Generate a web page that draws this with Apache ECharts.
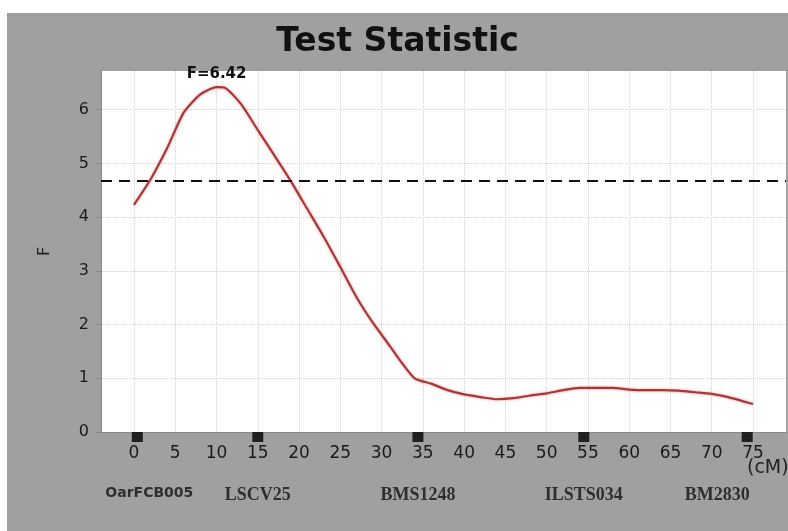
<!DOCTYPE html>
<html>
<head>
<meta charset="utf-8">
<script src="https://cdn.jsdelivr.net/npm/echarts@6/dist/echarts.min.js"></script>
<style>
  html, body { margin: 0; padding: 0; background: #fff; }
  #content { position: absolute; left: 7px; top: 13px; width: 781px; height: 518px; }
</style>
</head>
<body>
<div id="content"></div>
<script>
// position along the chromosome (cM) and test statistic F
var posCM = [0, 2, 4, 6, 8, 10, 11, 13, 15, 17, 19, 21, 23, 25, 27, 29, 31, 32, 34, 36, 38, 40, 42, 44, 46, 48, 50, 52, 54, 56, 58, 60, 62, 64, 66, 68, 70, 72, 75];
var fValues = [4.23, 4.7, 5.28, 5.94, 6.28, 6.42, 6.41, 6.1, 5.62, 5.15, 4.67, 4.15, 3.63, 3.07, 2.5, 2.02, 1.6, 1.38, 1.0, 0.9, 0.78, 0.7, 0.65, 0.61, 0.63, 0.68, 0.72, 0.78, 0.82, 0.82, 0.82, 0.79, 0.78, 0.78, 0.77, 0.74, 0.71, 0.65, 0.52];
var threshold = 4.67;
var peakIndex = 5;

// markers
var markerPos = [0.4, 15, 34.4, 54.5, 74.3];
var markerNames = ["OarFCB005", "LSCV25", "BMS1248", "ILSTS034", "BM2830"];

// tick labels
var xTicks = [0, 5, 10, 15, 20, 25, 30, 35, 40, 45, 50, 55, 60, 65, 70, 75];
var yTicks = [0, 1, 2, 3, 4, 5, 6];

var myChart = echarts.init(document.getElementById("content"));

var lineData = posCM.map(function (x, i) {
  return [x, fValues[i]];
});

var markerData = markerPos.map(function (x, i) {
  var item = { name: markerNames[i], value: [x, 0] };
  if (i === 0) {
    item.label = { fontFamily: "DejaVu Sans", fontSize: 14, offset: [12, 0] };
  }
  if (i === markerPos.length - 1) {
    item.label = { offset: [-30, 0] };
  }
  return item;
});

var option = {
  backgroundColor: "#a0a0a0",
  animation: false,
  title: {
    text: "Test Statistic",
    left: "center",
    top: 8,
    textStyle: {
      fontFamily: "DejaVu Sans",
      fontWeight: "bold",
      fontSize: 33,
      color: "#111"
    }
  },
  grid: {
    left: 94,
    top: 58,
    right: 2,
    bottom: 99,
    containLabel: false,
    outerBoundsMode: "none",
    show: true,
    backgroundColor: "#fff",
    borderWidth: 0
  },
  xAxis: {
    type: "value",
    min: -4,
    max: 79,
    name: "(cM)",
    nameLocation: "end",
    nameGap: -39,
    nameMoveOverlap: false,
    nameTextStyle: {
      fontFamily: "DejaVu Sans",
      fontSize: 19,
      color: "#222",
      align: "left",
      verticalAlign: "top",
      lineHeight: 72
    },
    axisLine: { show: true, onZero: false, lineStyle: { color: "#888", width: 1 } },
    axisTick: { show: false, customValues: xTicks },
    axisLabel: {
      customValues: xTicks,
      margin: 13,
      fontFamily: "DejaVu Sans",
      fontSize: 17,
      color: "#1a1a1a"
    },
    splitLine: { show: true, lineStyle: { color: "#d4d4d4", type: "dotted", width: 1 } }
  },
  yAxis: {
    type: "value",
    min: 0,
    max: 6.72,
    name: "F",
    nameLocation: "middle",
    nameGap: 48,
    nameTextStyle: { fontFamily: "DejaVu Sans", fontSize: 16, color: "#222" },
    axisLine: { show: true, onZero: false, lineStyle: { color: "#888", width: 1 } },
    axisTick: { show: true, length: 5, customValues: yTicks, lineStyle: { color: "#888" } },
    axisLabel: {
      customValues: yTicks,
      margin: 12,
      fontFamily: "DejaVu Sans",
      fontSize: 16,
      color: "#1a1a1a"
    },
    splitLine: { show: true, lineStyle: { color: "#d4d4d4", type: "dotted", width: 1 } }
  },
  series: [
    {
      type: "line",
      data: lineData,
      smooth: 0.2,
      showSymbol: false,
      symbol: "none",
      lineStyle: { color: "#a83838", width: 2.2, shadowColor: "rgba(230,120,120,0.7)", shadowBlur: 3 },
      markLine: {
        silent: true,
        symbol: "none",
        label: { show: false },
        lineStyle: { color: "#111", type: [11, 7], width: 2 },
        data: [{ yAxis: threshold }]
      },
      markPoint: {
        silent: true,
        symbol: "circle",
        symbolSize: 1,
        itemStyle: { color: "rgba(0,0,0,0)" },
        label: {
          show: true,
          position: "top",
          distance: 5,
          formatter: "F=" + fValues[peakIndex].toFixed(2),
          fontFamily: "DejaVu Sans",
          fontWeight: "bold",
          fontSize: 15,
          color: "#111"
        },
        data: [{ coord: [posCM[peakIndex], fValues[peakIndex]] }]
      },
      z: 3
    },
    {
      type: "scatter",
      data: markerData,
      symbol: "rect",
      symbolSize: [11, 10],
      symbolOffset: [0, 5],
      clip: false,
      itemStyle: { color: "#000" },
      label: {
        show: true,
        position: "bottom",
        distance: 44,
        formatter: "{b}",
        fontFamily: "Liberation Serif",
        fontWeight: "bold",
        fontSize: 18,
        color: "#111"
      },
      z: 5
    }
  ]
};
myChart.setOption(option);
</script>
</body>
</html>
